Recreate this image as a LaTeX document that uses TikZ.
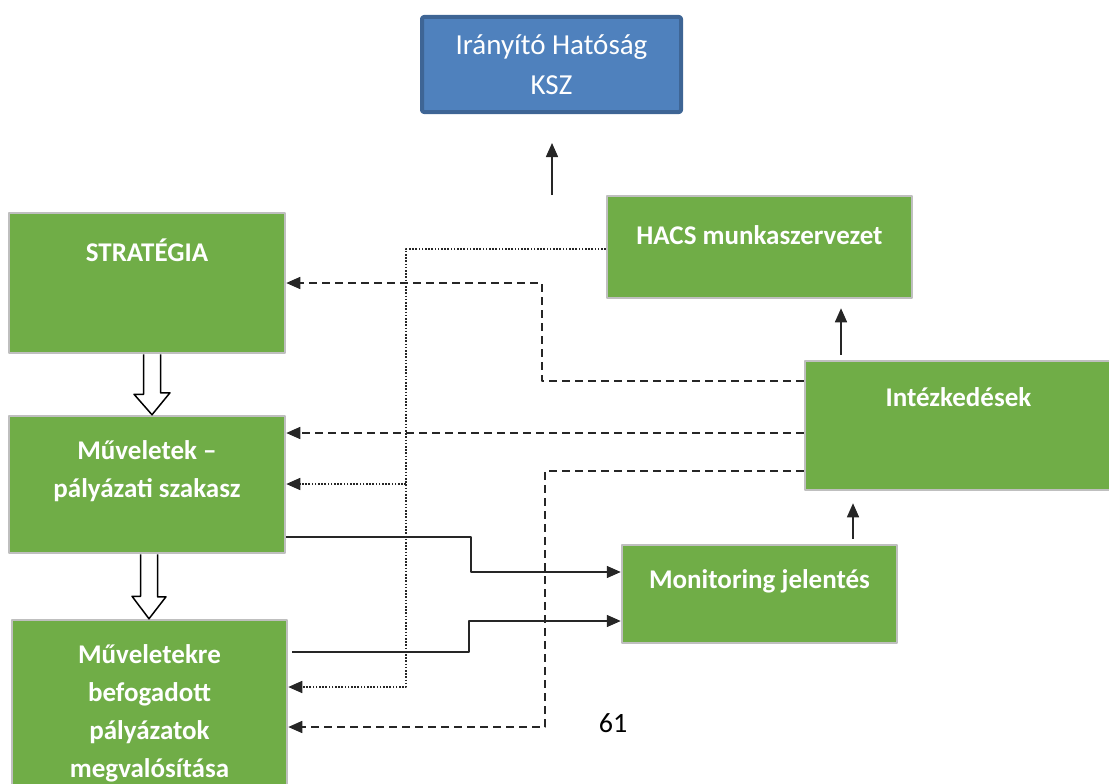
\documentclass[tikz,border=0pt]{standalone}
\usepackage{fontspec}
\setmainfont{Carlito}
\usetikzlibrary{arrows.meta}
\definecolor{gruen}{HTML}{70AD47}
\definecolor{grau}{HTML}{BFBFBF}
\definecolor{blau}{HTML}{4F81BD}
\definecolor{dunkelblau}{HTML}{3E6595}
\definecolor{linie}{HTML}{262626}
\begin{document}
\begin{tikzpicture}[x=1pt,y=-1pt,>={Triangle[length=14pt,width=12pt]},line join=round,
	gbox/.style={draw=grau,line width=2.5pt,fill=gruen,inner sep=0pt},
	btxt/.style={text=white,font=\fontsize{27}{38}\selectfont\bfseries,align=center},
	verb/.style={draw=linie,line width=1.5pt},
	gestr/.style={draw=linie,line width=1.5pt,dash pattern=on 8pt off 5pt},
	punkt/.style={draw=linie,line width=1.6pt,dash pattern=on 1.6pt off 1.6pt},
	hohl/.style={draw=black,line width=1.5pt,fill=white}]
	\clip (0,0) rectangle (1109,784);
	% Kopf
	\node[draw=dunkelblau,line width=4pt,fill=blau,rounded corners=2pt,minimum width=259,minimum height=95,
		text=white,font=\fontsize{29}{40}\selectfont,align=center] (ih) at (551.5,64.5) {Irányító Hatóság\\KSZ};
	% linke Spalte
	\node[gbox,minimum width=276,minimum height=140,label={[btxt,yshift=33pt]center:STRATÉGIA}] (strat) at (147,283) {};
	\node[gbox,minimum width=276,minimum height=137,label={[btxt,yshift=13pt]center:Műveletek –\\pályázati szakasz}] (mu) at (147,484.5) {};
	\node[gbox,minimum width=275,minimum height=180,label={[btxt,yshift=-3.5pt]center:Műveletekre\\befogadott\\pályázatok\\megvalósítása}] (mur) at (149.5,710) {};
	% rechte Seite
	\node[gbox,minimum width=305,minimum height=102,label={[btxt,yshift=12pt]center:HACS munkaszervezet}] (hacs) at (759.5,247) {};
	\node[gbox,minimum width=307,minimum height=129,label={[btxt,yshift=28.5pt]center:Intézkedések}] (intez) at (958.5,425.5) {};
	\node[gbox,minimum width=275,minimum height=98,label={[btxt,yshift=13pt]center:Monitoring jelentés}] (mon) at (759.5,594) {};
	\node[font=\fontsize{28}{30}\selectfont] (seite) at (613,723) {61};
	\coordinate (fel) at (552,195);
	\coordinate (knick) at (406,484);
	% Pfeile
	\draw[verb,->] (fel) -- ++(0,-52);
	\draw[verb,->,shorten <=5pt,shorten >=9pt] (intez.north -| 841,0) -- (hacs.south -| 841,0);
	\draw[verb,->,shorten <=5pt,shorten >=12pt] (mon.north -| 853,0) -- (intez.south -| 853,0);
	\draw[hohl] (strat.south -| 143.5,0) -- ++(0,40) -- ++(-9.5,0) -- (mu.north -| 152,0) -- ++(18,-22) -- ++(-9.5,0) -- (strat.south -| 160.5,0);
	\draw[hohl] (mu.south -| 140.5,0) -- ++(0,42) -- ++(-8.5,0) -- (mur.north -| 149,0) -- ++(17,-22) -- ++(-8.5,0) -- (mu.south -| 157.5,0);
	\draw[gestr,->] (intez.west |- 0,381) -| (542,283) -- (strat.east |- 0,283);
	\draw[gestr,->] (intez.west |- 0,433) -- (mu.east |- 0,433);
	\draw[gestr,->] (intez.west |- 0,471) -| (545,727) -- (mur.east |- 0,727);
	\draw[punkt,->] (hacs.west |- 0,249) -| (406,687) -- (mur.east |- 0,687);
	\draw[punkt,->] (knick) -- (mu.east |- 0,484);
	\draw[verb,->] (mu.east |- 0,537) -| (471,572) -- (mon.west |- 0,572);
	\draw[verb,->,shorten <=4pt] (mur.east |- 0,652) -| (469,621) -- (mon.west |- 0,621);
\end{tikzpicture}
\end{document}
